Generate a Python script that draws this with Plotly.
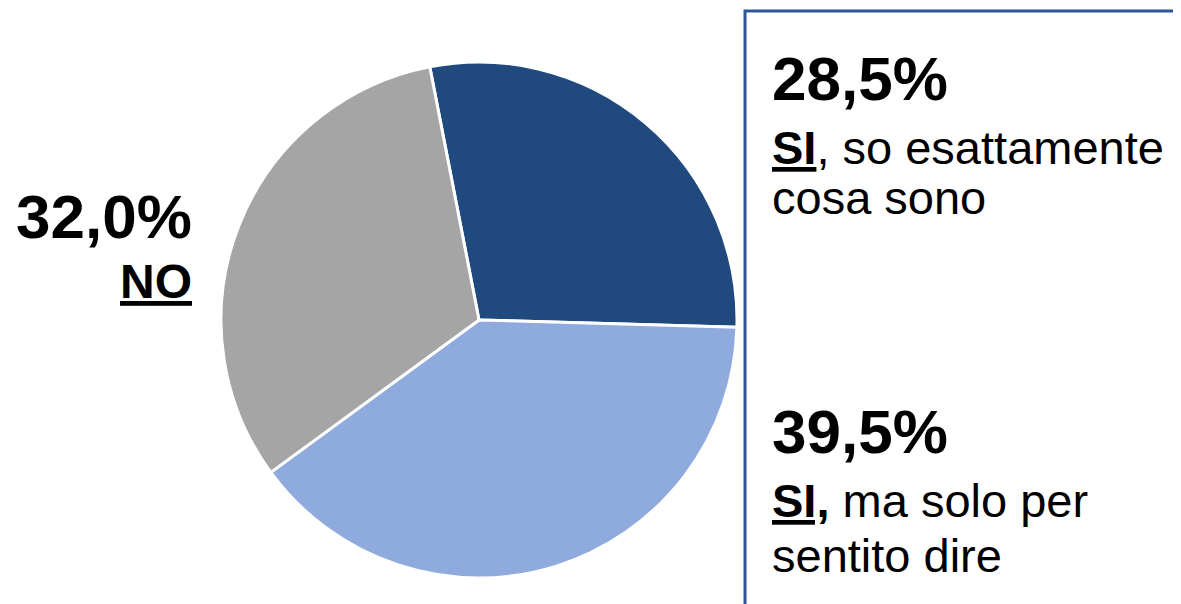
import plotly.graph_objects as go

labels = ["SI, so esattamente cosa sono", "SI, ma solo per sentito dire", "NO"]
values = [28.5, 39.5, 32.0]
colors = ["#204A7E", "#8FAADC", "#A5A5A5"]

# the page puts the plot 8px in from the top left corner;
# the figure runs past the window so the box reaches its edges
OFF = 8
W, H = 1181, 604


def px(x):
    return (x - OFF) / W


def py(y):
    # pixel y (from top of window) -> paper y
    return 1 - (y - OFF) / H


def pct(v):
    return f"{v:.1f}".replace(".", ",") + "%"


fig = go.Figure(go.Pie(
    labels=labels, values=values, sort=False, direction="clockwise",
    rotation=-11, textinfo="none", hoverinfo="label+percent",
    marker=dict(colors=colors, line=dict(color="white", width=3)),
    domain=dict(x=[px(221), px(737)], y=[py(578), py(62)]),
    showlegend=False,
))

body = "Liberation Sans"
ann = []
# right box, first answer
ann.append(dict(x=px(770), y=py(78), text="<b>" + pct(values[0]) + "</b>",
                font=dict(size=62, family=body)))
ann.append(dict(x=px(770), y=py(148), text="<b><u>SI</u></b>, so esattamente",
                font=dict(size=47, family=body)))
ann.append(dict(x=px(770), y=py(197), text="cosa sono",
                font=dict(size=47, family=body)))
# right box, second answer
ann.append(dict(x=px(770), y=py(431), text="<b>" + pct(values[1]) + "</b>",
                font=dict(size=62, family=body)))
ann.append(dict(x=px(770), y=py(500), text="<b><u>SI,</u></b> ma solo per",
                font=dict(size=47, family=body)))
ann.append(dict(x=px(770), y=py(555), text="sentito dire",
                font=dict(size=47, family=body)))
for a in ann:
    a.update(xanchor="left", yanchor="middle")
# left label
ann.append(dict(x=px(194), y=py(217), text="<b>" + pct(values[2]) + "</b>",
                xanchor="right", yanchor="middle", font=dict(size=62, family=body)))
ann.append(dict(x=px(194), y=py(281), text="<b><u>NO</u></b>",
                xanchor="right", yanchor="middle", font=dict(size=48, family=body)))
for a in ann:
    a.update(xref="paper", yref="paper", showarrow=False)
    a["font"]["color"] = "black"

fig.update_layout(
    width=W, height=H, margin=dict(l=0, r=0, t=0, b=0),
    paper_bgcolor="white", plot_bgcolor="white",
    annotations=ann,
    shapes=[dict(type="rect", xref="paper", yref="paper",
                 x0=px(745), x1=1.05, y0=-0.05, y1=py(11),
                 line=dict(color="#2F5597", width=3))],
)

fig.write_html("out.html")
